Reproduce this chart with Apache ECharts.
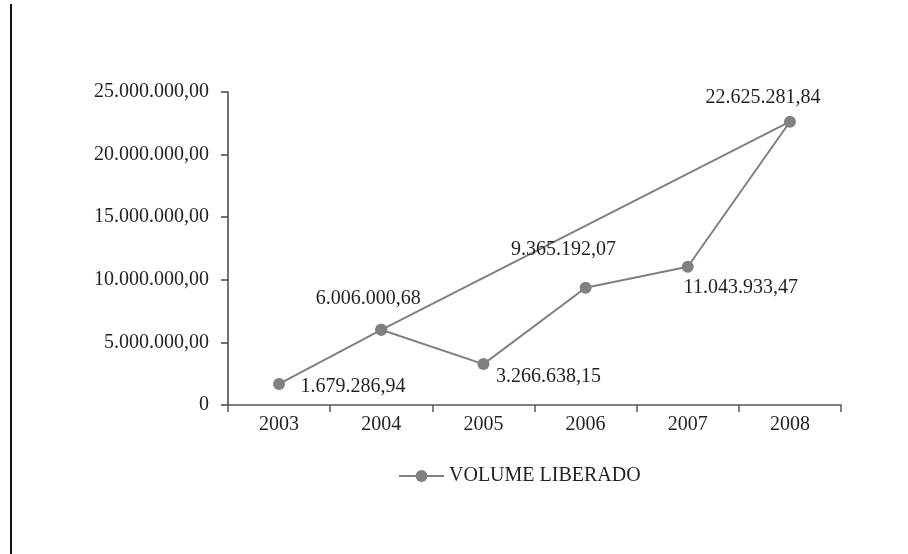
<!DOCTYPE html>
<html>
<head>
<meta charset="utf-8">
<script src="https://cdn.jsdelivr.net/npm/echarts@6/dist/echarts.min.js"></script>
<style>
  html, body { margin: 0; padding: 0; background: #ffffff; }
  #chart { width: 908px; height: 554px; }
</style>
</head>
<body>
<div id="chart"></div>
<script>
// Volume liberado por ano
const years = ['2003', '2004', '2005', '2006', '2007', '2008'];
const volumes = [1679286.94, 6006000.68, 3266638.15, 9365192.07, 11043933.47, 22625281.84];
// Order in which the points are joined (the path closes back on 2004)
const pathOrder = [0, 1, 2, 3, 4, 5, 1];
// Where each value label sits relative to its marker
const labelOffsets = [[74, 3], [-13, -31], [65, 13], [-22, -38], [53, 21], [-27, -24]];
const yTicks = { min: 0, max: 25000000, interval: 5000000 };
const seriesName = 'VOLUME LIBERADO';

const FONT = '"Liberation Serif", "Times New Roman", serif';
const TEXT = '#231f20';
const GREY = '#808080';

function fmtBR(v) {
  const parts = v.toFixed(2).split('.');
  const intPart = parts[0].replace(/\B(?=(\d{3})+(?!\d))/g, '.');
  return intPart + ',' + parts[1];
}

const data = pathOrder.map((idx, k) => {
  const isRepeat = pathOrder.indexOf(idx) !== k;
  return {
    value: [years[idx], volumes[idx]],
    label: isRepeat ? { show: false } : {
      show: true,
      position: 'inside',
      offset: labelOffsets[idx],
      formatter: () => fmtBR(volumes[idx])
    }
  };
});

const chart = echarts.init(document.getElementById('chart'), null, { renderer: 'canvas' });
chart.setOption({
  backgroundColor: '#ffffff',
  animation: false,
  textStyle: { fontFamily: FONT },
  grid: { left: 228, right: 67, top: 92, bottom: 149, containLabel: false },
  xAxis: {
    type: 'category',
    data: years,
    boundaryGap: true,
    axisLine: { show: true, lineStyle: { color: '#555555', width: 1.5 } },
    axisTick: { show: true, length: 7, inside: false, lineStyle: { color: '#555555', width: 1.5 } },
    axisLabel: { color: TEXT, fontFamily: FONT, fontSize: 20, margin: 10 },
    splitLine: { show: false }
  },
  yAxis: {
    type: 'value',
    min: yTicks.min,
    max: yTicks.max,
    interval: yTicks.interval,
    axisLine: { show: true, lineStyle: { color: '#444444', width: 1.5 } },
    axisTick: { show: true, length: 7, inside: false, lineStyle: { color: '#444444', width: 1.5 } },
    axisLabel: {
      color: TEXT, fontFamily: FONT, fontSize: 20, margin: 19,
      formatter: v => v === 0 ? '0' : fmtBR(v)
    },
    splitLine: { show: false }
  },
  legend: {
    data: [seriesName],
    left: 393,
    top: 461,
    itemWidth: 45,
    itemHeight: 15,
    itemGap: 5,
    lineStyle: { width: 2, color: GREY },
    textStyle: { color: TEXT, fontFamily: FONT, fontSize: 20 }
  },
  series: [{
    name: seriesName,
    type: 'line',
    data: data,
    symbol: 'circle',
    symbolSize: 12,
    lineStyle: { color: GREY, width: 2 },
    itemStyle: { color: GREY },
    label: { color: TEXT, fontFamily: FONT, fontSize: 20 },
    z: 3
  }],
  graphic: [{
    type: 'line',
    shape: { x1: 11, y1: 4, x2: 11, y2: 554 },
    style: { stroke: '#111111', lineWidth: 2 }
  }]
});
</script>
</body>
</html>
